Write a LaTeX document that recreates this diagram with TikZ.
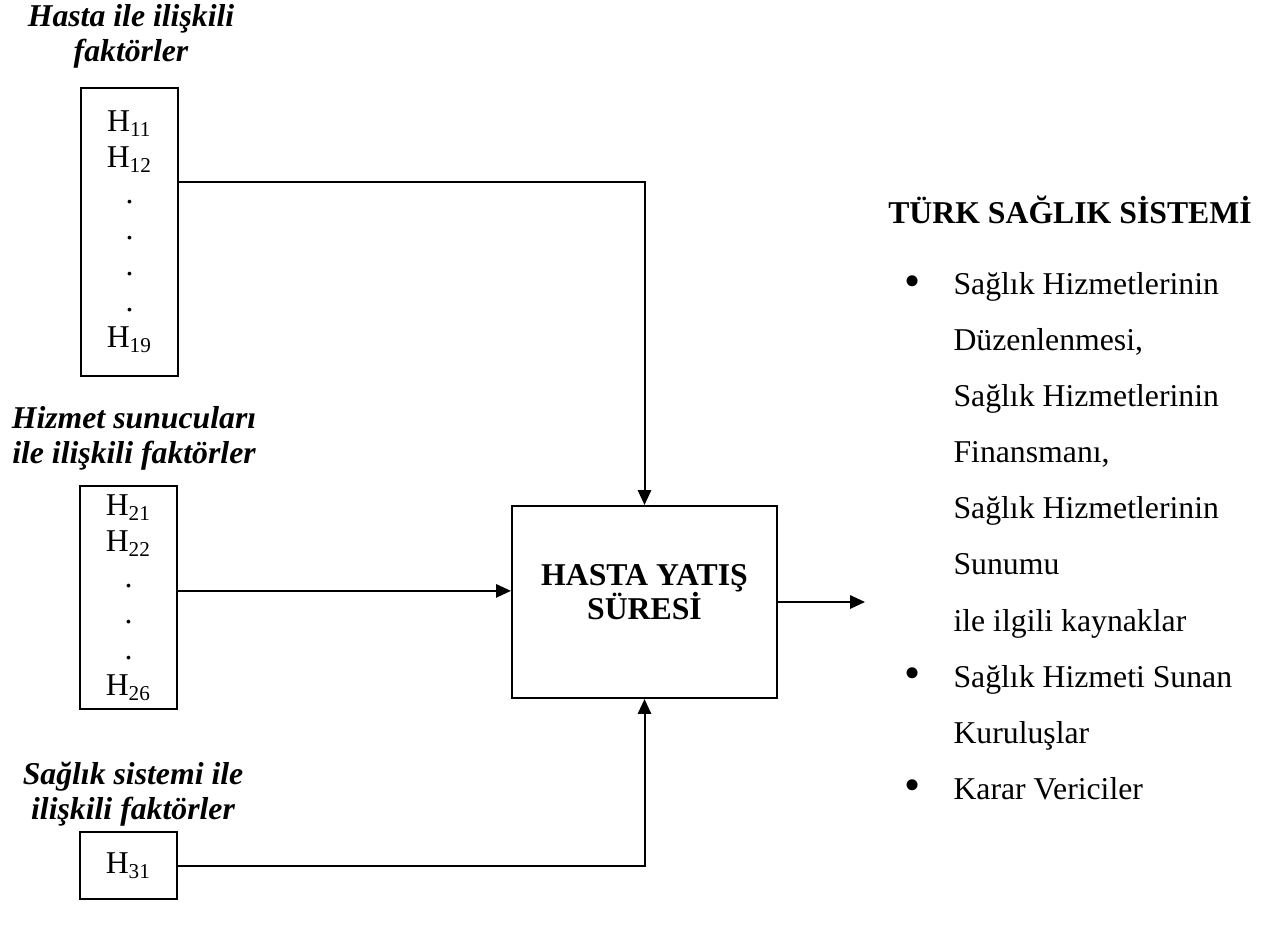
\documentclass[tikz,border=0pt]{standalone}
\usepackage{graphicx}
\usepackage{fontspec}
\setmainfont{Liberation Serif}
\usetikzlibrary{arrows.meta,positioning}

\newcommand{\madde}{\llap{\raisebox{-0.6pt}{\scalebox{1.45}{\textbullet}}\hspace{12.4pt}}}

\begin{document}
\begin{tikzpicture}[
  x=0.378pt, y=-0.378pt,
  faktor/.style={
    rectangle, draw=black, line width=0.75pt,
    minimum width=36.7pt, inner sep=0pt,
    align=center, font=\fontsize{12}{13.6}\selectfont
  },
  baslik/.style={align=center, font=\fontsize{12}{13.2}\selectfont\bfseries\itshape},
  merkez/.style={
    rectangle, draw=black, line width=0.75pt,
    minimum width=100.2pt, minimum height=72.6pt,
    align=center, text depth=7.6pt,
    font=\fontsize{12}{13.2}\selectfont\bfseries
  },
  conn/.style={-{Triangle[length=5.6pt,width=5pt]}, line width=0.75pt}
]
\useasboundingbox (0,0) rectangle (1262,931);

% Group 1
\node[baslik] (b1) at (131,36) {Hasta ile ilişkili\\faktörler};
\node[faktor, minimum height=108.9pt] (h1) at (129.5,232) {
  H\textsubscript{11}\\H\textsubscript{12}\\.\\.\\.\\.\\H\textsubscript{19}
};

% Group 2
\node[baslik] (b2) at (134,438) {Hizmet sunucuları\\ile ilişkili faktörler};
\node[faktor, minimum height=84.3pt] (h2) at (128.5,597.5) {
  H\textsubscript{21}\\H\textsubscript{22}\\.\\.\\.\\H\textsubscript{26}
};

% Group 3
\node[baslik] (b3) at (133,794) {Sağlık sistemi ile\\ilişkili faktörler};
\node[faktor, minimum height=25.3pt] (h3) at (128.5,865.5) {H\textsubscript{31}};

% Centre box
\node[merkez] (yatis) at (644.5,602) {HASTA YATIŞ\\SÜRESİ};

\coordinate (g2) at ([yshift=2.5pt]h2.east);
\coordinate (cikis) at (865,602);

\draw[conn] ([yshift=18.9pt]h1.east) -| (yatis.north);
\draw[conn] (g2) -- (g2 -| yatis.west);
\draw[conn] (h3.east) -| (yatis.south);
\draw[conn] (yatis.east) -- (cikis);

% Right column
\node[font=\fontsize{12}{14}\selectfont\bfseries] (sistem) at (1070,210) {TÜRK SAĞLIK SİSTEMİ};
\node[anchor=north west, inner sep=0pt, align=left, font=\fontsize{12}{21.2}\selectfont] (kaynak) at (953,272) {
  \madde Sağlık Hizmetlerinin\\
  Düzenlenmesi,\\
  Sağlık Hizmetlerinin\\
  Finansmanı,\\
  Sağlık Hizmetlerinin\\
  Sunumu\\
  ile ilgili kaynaklar\\
  \madde Sağlık Hizmeti Sunan\\
  Kuruluşlar\\
  \madde Karar Vericiler
};
\end{tikzpicture}
\end{document}
